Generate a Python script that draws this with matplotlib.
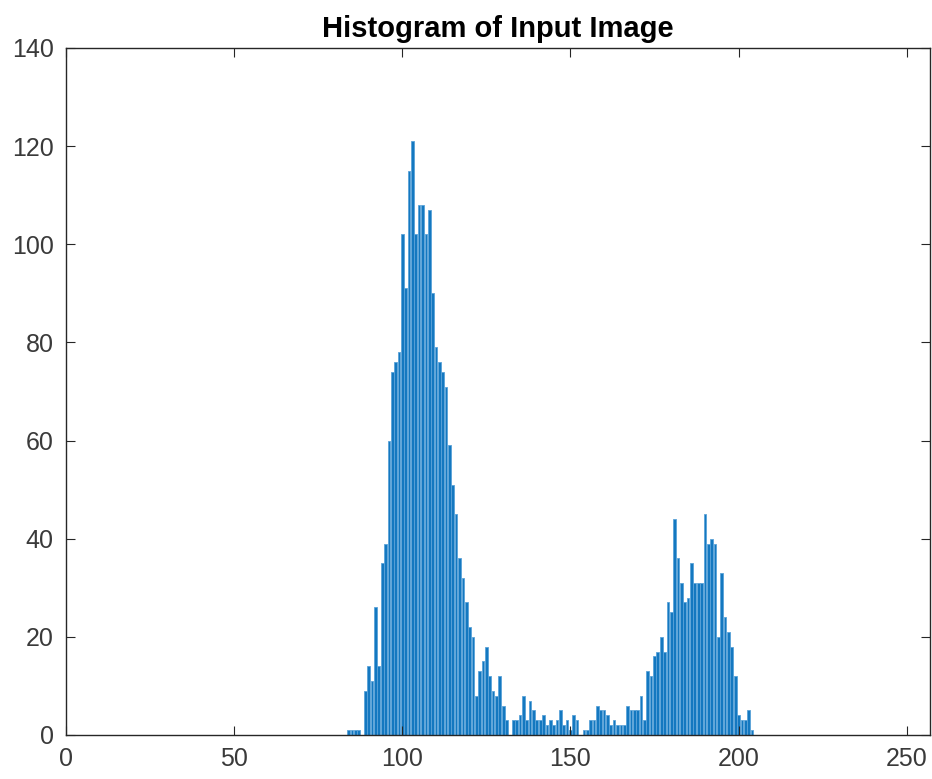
import numpy as np
import matplotlib
matplotlib.use('Agg')  # Non-GUI backend
import matplotlib.pyplot as plt

# Pixel counts per intensity bin, starting at bin 84 (all other bins are empty)
bin_start = 84
counts = [
    1, 1, 1, 1, 0, 9, 14, 11, 26, 14,           # 84-93
    35, 39, 60, 74, 76, 78, 102, 91, 115, 121,  # 94-103
    102, 108, 108, 102, 107, 90, 79, 76, 74, 71,  # 104-113
    59, 51, 45, 36, 32, 27, 22, 20, 8, 13,      # 114-123
    15, 18, 12, 9, 8, 12, 6, 3, 0, 3,           # 124-133
    3, 4, 8, 3, 7, 5, 3, 3, 4, 2,               # 134-143
    3, 2, 3, 5, 2, 3, 1, 4, 3, 0,               # 144-153
    1, 1, 3, 3, 6, 5, 5, 4, 2, 3,               # 154-163
    2, 2, 2, 6, 5, 5, 5, 8, 3, 13,              # 164-173
    12, 16, 17, 20, 17, 27, 25, 44, 36, 31,     # 174-183
    27, 28, 35, 31, 31, 31, 45, 39, 40, 39,     # 184-193
    20, 33, 24, 21, 18, 12, 4, 3, 3, 5,         # 194-203
    1,                                          # 204
]
x_ticks = [0, 50, 100, 150, 200, 250]
y_ticks = [0, 20, 40, 60, 80, 100, 120, 140]

bins = bin_start + np.arange(len(counts))

plt.rcParams['font.family'] = ['Liberation Sans', 'DejaVu Sans']
axis_color = '#262626'

fig = plt.figure(figsize=(9.32, 7.79), dpi=100)
ax = fig.add_axes([0.071, 0.0565, 0.927, 0.882])

# bars with a soft lighter rim so neighbouring bars blend like the MATLAB render
ax.bar(bins, counts, width=0.8, color='#1478C0', edgecolor='#5AA2D8',
       linewidth=0.6)

ax.set_xlim(0, 257)
ax.set_ylim(0, 140)
ax.set_xticks(x_ticks)
ax.set_yticks(y_ticks)

ax.tick_params(direction='in', top=True, right=True, length=6.2, width=0.8,
               colors=axis_color, labelsize=18, pad=9)
for tick_label in ax.get_xticklabels() + ax.get_yticklabels():
    tick_label.set_color('#3a3a3a')
for side in ax.spines.values():
    side.set_color(axis_color)
    side.set_linewidth(1.0)

ax.set_title('Histogram of Input Image', fontsize=21, fontweight='bold',
             color='black', pad=8)

fig.savefig('out.png', dpi=100)
plt.close(fig)
